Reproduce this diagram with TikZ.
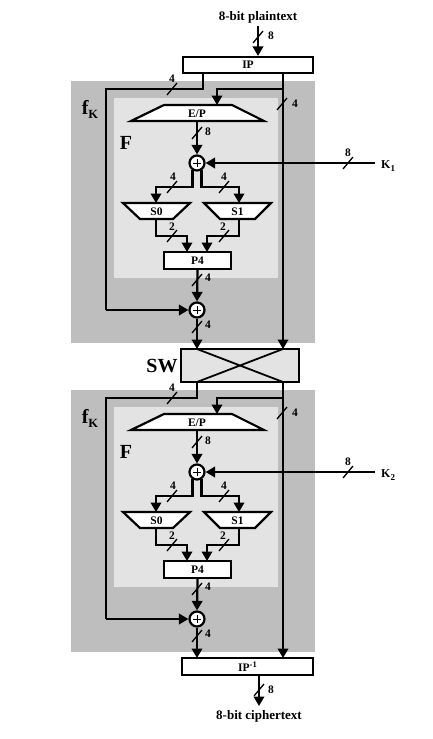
\documentclass[tikz,border=0pt]{standalone}
\usepackage{fontspec}
\setmainfont{Liberation Serif}
\usetikzlibrary{arrows.meta,calc}
\definecolor{outergray}{RGB}{190,190,190}
\definecolor{innergray}{RGB}{227,227,227}
\begin{document}
\begin{tikzpicture}[x=1pt,y=-1pt,
  conn/.style={line width=2.2pt},
  arr/.style={conn,-{Triangle[width=10.5pt,length=9.5pt]}},
  boxst/.style={draw,line width=2.2pt,fill=white,inner sep=0pt,font=\fontsize{11.5}{13}\selectfont\bfseries},
  shapest/.style={draw,line width=2.2pt,fill=white},
  txt/.style={inner sep=0pt,font=\fontsize{11.5}{13}\selectfont\bfseries},
  buslbl/.style={inner sep=0pt,font=\fontsize{11.5}{12}\selectfont\bfseries},
  titlelbl/.style={inner sep=0pt,font=\fontsize{13}{15}\selectfont\bfseries},
  biglbl/.style={inner sep=0pt,font=\fontsize{20}{22}\selectfont\bfseries},
  xorst/.style={draw,circle,line width=2.2pt,fill=white,minimum size=15pt,inner sep=0pt},
  slashline/.style={line width=1.3pt},
]
\useasboundingbox (0,0) rectangle (433,739);

% ---------- top ----------
\node[titlelbl] (pt) at (258,17) {8-bit plaintext};
\node[boxst,minimum width=130pt,minimum height=16pt] (ip) at (248,65) {IP};
\coordinate (inS) at (258,26);
\draw[arr] (inS) -- (ip.north -| inS);
\draw[slashline] (253,43) -- (263,31);
\node[buslbl] (lin) at (271,36) {8};

% ---------- rounds ----------
\foreach \o/\r/\lx/\sy in {0/1/203/73, 309/2/197/382}{
  \fill[outergray] (71,81+\o) rectangle (315,343+\o);
  \fill[innergray] (114,98+\o) rectangle (278,278+\o);
  \node[inner sep=0pt] (fk\r) at (90,109+\o) {{\fontsize{20}{22}\selectfont\bfseries f}\raisebox{-4pt}{\fontsize{12.5}{14}\selectfont\bfseries K}};
  \node[biglbl] (F\r) at (126,143+\o) {F};
  % E/P
  \draw[shapest] (164,105+\o) -- (232,105+\o) -- (264,121+\o) -- (131,121+\o) -- cycle;
  \node[txt] (ep\r) at (197,114+\o) {E/P};
  % S-boxes
  \draw[shapest] (123,203+\o) -- (190,203+\o) -- (173,219+\o) -- (140,219+\o) -- cycle;
  \node[txt] (s0\r) at (156.5,211.5+\o) {S0};
  \draw[shapest] (204,203+\o) -- (271,203+\o) -- (255,219+\o) -- (220,219+\o) -- cycle;
  \node[txt] (s1\r) at (237.5,211.5+\o) {S1};
  % P4
  \node[boxst,minimum width=67pt,minimum height=17pt] (p4\r) at (197.5,260.5+\o) {P4};
  % XORs
  \node[xorst] (xa\r) at (197,163+\o) {};
  \node[xorst] (xb\r) at (197,310+\o) {};
  \draw[line width=0.6pt] (193,163+\o) -- (201,163+\o) (197,159+\o) -- (197,167+\o);
  \draw[line width=0.6pt] (193,310+\o) -- (201,310+\o) (197,306+\o) -- (197,314+\o);
  % connectors
  \coordinate (rt\r) at (283,\sy);
  \coordinate (lt\r) at (\lx,\sy);
  \coordinate (br\r) at (283,89+\o);
  \draw[arr] (br\r) -- (217,89+\o) -- (217,105+\o);
  \draw[conn] (lt\r) -- (\lx,89+\o) -- (106,89+\o) -- (106,310+\o);
  \draw[arr] (106,310+\o) -- (xb\r.west);
  \draw[arr] (197,121+\o) -- (xa\r.north);
  \coordinate (kin\r) at (375,163+\o);
  \draw[arr] (kin\r) -- (xa\r.east);
  \node[inner sep=0pt,anchor=west] (k\r) at (381,166+\o) {\fontsize{12}{14}\selectfont\bfseries K\raisebox{-3.5pt}{\fontsize{9}{10}\selectfont\bfseries \r}};
  \draw[arr] (xa\r.-122) |- (156,187+\o) -- (156,203+\o);
  \draw[arr] (xa\r.-58) |- (239,187+\o) -- (239,203+\o);
  \draw[arr] (156,219+\o) |- (187,236+\o) -- (187,252+\o);
  \draw[arr] (239,219+\o) |- (207,236+\o) -- (207,252+\o);
  \draw[arr] (p4\r.south) -- (xb\r.north);
  % bus slashes
  \draw[slashline] (167,95+\o) -- (177,83+\o);
  \draw[slashline] (277,110+\o) -- (287,98+\o);
  \draw[slashline] (192,139+\o) -- (202,127+\o);
  \draw[slashline] (343,169+\o) -- (353,157+\o);
  \draw[slashline] (167,193+\o) -- (177,181+\o);
  \draw[slashline] (219,193+\o) -- (229,181+\o);
  \draw[slashline] (167,242+\o) -- (177,230+\o);
  \draw[slashline] (219,242+\o) -- (229,230+\o);
  \draw[slashline] (192,286+\o) -- (202,274+\o);
  \draw[slashline] (192,333+\o) -- (202,321+\o);
  % bus labels
  \node[buslbl] (la\r) at (172,79+\o) {4};
  \node[buslbl] (lb\r) at (295,104+\o) {4};
  \node[buslbl] (lc\r) at (208,132+\o) {8};
  \node[buslbl] (ld\r) at (348,153+\o) {8};
  \node[buslbl] (le\r) at (173,177+\o) {4};
  \node[buslbl] (lf\r) at (224,177+\o) {4};
  \node[buslbl] (lg\r) at (172,227+\o) {2};
  \node[buslbl] (lh\r) at (223,227+\o) {2};
  \node[buslbl] (li\r) at (208,278+\o) {4};
  \node[buslbl] (lj\r) at (208,325+\o) {4};
}

% ---------- SW ----------
\node[draw,line width=2.2pt,fill=innergray,minimum width=118pt,minimum height=33pt,inner sep=0pt] (sw) at (240,365.5) {};
\draw[line width=1.8pt] (197,349) -- (283,382) (283,349) -- (197,382);
\node[biglbl] (swl) at (162,366) {SW};
\draw[arr] (rt1) -- (283,349);
\draw[arr] (xb1.south) -- (197,349);

% ---------- bottom ----------
\node[boxst,minimum width=131pt,minimum height=17pt] (ipi) at (247.5,666.5) {IP\raisebox{4pt}{\fontsize{8.5}{9}\selectfont\bfseries -1}};
\draw[arr] (rt2) -- (283,658);
\draw[arr] (xb2.south) -- (197,658);
\coordinate (outE) at (259,706);
\draw[arr] (ipi.south -| outE) -- (outE);
\draw[slashline] (254,696) -- (264,684);
\node[buslbl] (lout) at (271,690) {8};
\node[titlelbl] (ct) at (259,716) {8-bit ciphertext};
\end{tikzpicture}
\end{document}
